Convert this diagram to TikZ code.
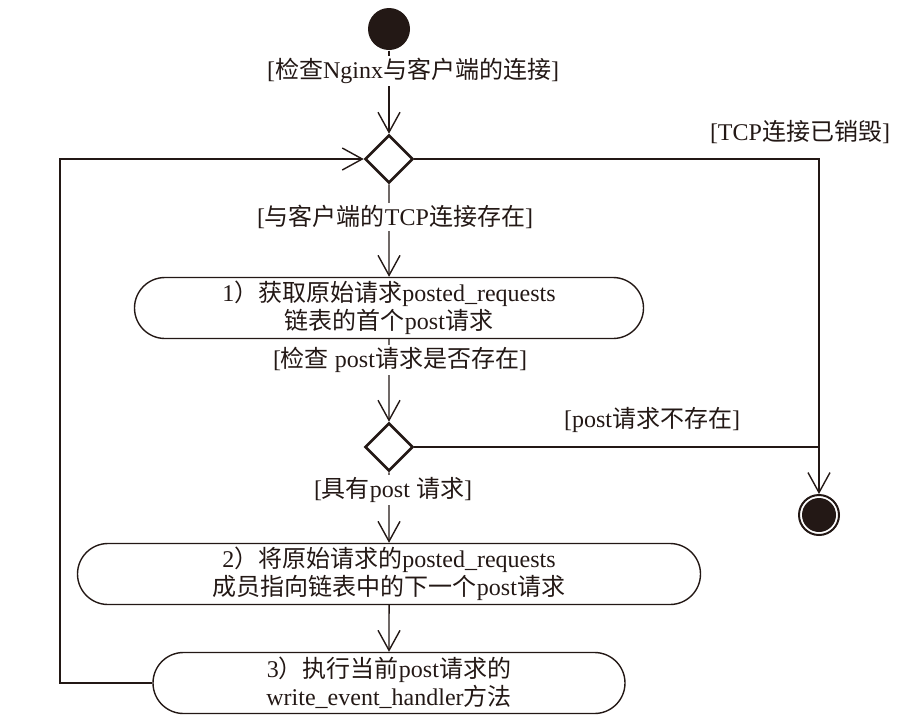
\documentclass[tikz,border=0pt]{standalone}
\usepackage{fontspec}
\setmainfont{Liberation Serif}
\newfontfamily\cjk{Noto Sans CJK SC}
\newcommand\zh[1]{{\cjk #1}}
\usetikzlibrary{arrows.meta,shapes.geometric,shapes.misc}
\definecolor{ink}{RGB}{35,24,21}

\begin{document}
\begin{tikzpicture}[x=0.5pt, y=-0.5pt,
    font=\fontsize{12}{14}\selectfont, color=ink, line width=0.7pt,
    >={Straight Barb[length=10pt,width=11pt]},
    action/.style={draw, rounded rectangle, minimum height=30.5pt, align=center, inner sep=0pt},
    choice/.style={draw, diamond, line width=1.3pt, minimum width=24pt, minimum height=24pt, inner sep=0pt},
    guard/.style={fill=white, inner sep=1pt}]
    \useasboundingbox (0,0) rectangle (922,724);
    % start and end states
    \node[circle, fill=ink, minimum size=21pt, inner sep=0pt] (start) at (389,29) {};
    \node[circle, draw, fill=white, line width=1pt, minimum size=20pt, inner sep=0pt] (stop) at (819,515) {};
    \fill (stop.center) circle (8.5pt);
    % decisions
    \node[choice] (d1) at (389,159) {};
    \node[choice] (d2) at (389,447) {};
    % actions
    \node[action, minimum width=254.5pt] (fetch) at (389,308)
        {1\zh{）获取原始请求}posted\_requests\\ \zh{链表的首个}post\zh{请求}};
    \node[action, minimum width=311.5pt] (next) at (389,574)
        {2\zh{）将原始请求的}posted\_requests\\ \zh{成员指向链表中的下一个}post\zh{请求}};
    \node[action, minimum width=236pt] (run) at (389,683)
        {3\zh{）执行当前}post\zh{请求的}\\ write\_event\_handler\zh{方法}};
    \coordinate (back) at (60,159);
    \coordinate (side) at (819,159);
    \coordinate (join) at (819,447);
    % flows
    \draw [->] (start) -- (d1);
    \draw [->] (d1) -- (fetch);
    \draw [->] (fetch) -- (d2);
    \draw [->] (d2) -- (next);
    \draw [->] (next) -- (run);
    \draw [->] (run.west) -| (back) -- (d1.west);
    \draw [->] (d1.east) -- (side) -- (stop.north);
    \draw (d2.east) -- (join);
    % guards
    \node[guard] (g1) at (413,71) {[\zh{检查}Nginx\zh{与客户端的连接}]};
    \node[guard] (g2) at (800,132) {[TCP\zh{连接已销毁}]};
    \node[guard] (g3) at (395,217) {[\zh{与客户端的}TCP\zh{连接存在}]};
    \node[guard] (g4) at (400,360) {[\zh{检查} post\zh{请求是否存在}]};
    \node[guard] (g5) at (652,420) {[post\zh{请求不存在}]};
    \node[guard] (g6) at (393,490) {[\zh{具有}post \zh{请求}]};
\end{tikzpicture}
\end{document}
